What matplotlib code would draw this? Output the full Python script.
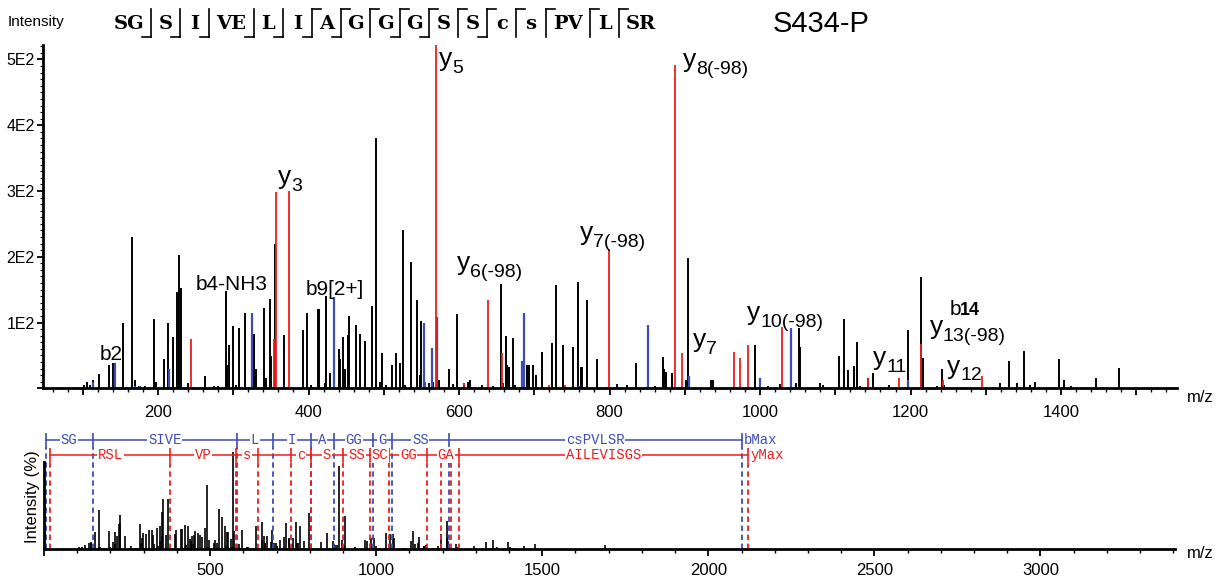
import matplotlib.pyplot as plt
import numpy as np
from matplotlib.ticker import MultipleLocator, FuncFormatter

plt.rcParams['font.family'] = ['Liberation Sans', 'DejaVu Sans']
plt.rcParams['mathtext.fontset'] = 'custom'
plt.rcParams['mathtext.rm'] = 'Liberation Sans'
plt.rcParams['mathtext.default'] = 'regular'

# ---- spectrum data (m/z, intensity) ----
black_mz = [102, 106, 110, 114, 122, 135, 140, 154, 166, 169, 175, 183, 195, 198, 208, 213,
            219.5, 225, 228, 230, 240, 262, 275, 280, 290, 292, 295, 299, 303, 308, 316, 328,
            330, 341, 344, 349, 350, 355, 367, 393, 397.6, 403, 413, 414, 422, 423, 428, 440,
            442, 445.5, 448, 453, 454, 463, 468.5, 475, 484, 489.7, 495, 497, 503, 510.5, 516,
            521.6, 526, 528, 536, 544, 548, 549.5, 560, 566, 573, 586.7, 592, 597, 606, 612,
            615, 630, 645, 655.4, 659, 662.5, 664, 666, 672, 674, 690, 693, 698, 702, 710, 723,
            728.5, 737.8, 738.5, 751, 757.7, 762, 764, 769.7, 783, 810, 823, 834.8, 860, 870.6,
            873, 875, 883, 902, 904.7, 935, 937, 993.4, 1011, 1027, 1048, 1051.8, 1053, 1080,
            1083, 1105, 1112, 1117, 1125, 1128.5, 1133, 1143, 1150, 1171, 1196, 1214, 1216,
            1235, 1241.5, 1245, 1319, 1331, 1342, 1351, 1359, 1365, 1397, 1404, 1413, 1446.5,
            1477.4, 1690]
black_int = [5, 9, 5, 13, 21, 35, 38, 100, 230, 13, 4, 3, 105, 9, 44, 100,
             78, 147, 203, 153, 8, 19, 4, 4, 148, 35, 66, 95, 5, 91, 115, 82,
             30, 122, 15, 136, 49, 220, 81, 88, 114, 5, 121, 121, 8, 140, 23, 60,
             45, 78, 30, 81, 110, 96, 82, 72, 125, 380, 10, 53, 5, 35, 54,
             38, 240, 5, 192, 134, 20, 102, 8, 10, 12, 30, 6, 113, 8, 10,
             12, 5, 4, 158, 8, 79, 35, 32, 77, 5, 35, 35, 35, 20, 55, 69,
             157, 62, 66, 63, 161, 33, 33, 134, 45, 7, 5, 39, 4, 48,
             30, 25, 23, 13, 198, 13, 13, 66, 3, 7, 8, 91, 63, 8,
             5, 49, 105, 28, 34, 71, 3, 15, 23, 5, 89, 169, 46,
             3, 30, 5, 8, 42, 8, 56, 5, 10, 44, 12, 3, 15,
             31, 22]

red_mz = [244, 357, 374.5, 569.4, 606, 639, 656.7, 720, 741, 799.3, 887, 896.8, 965.8, 973,
          984.5, 1029.6, 1143, 1184.7, 1214.5, 1243, 1294.6, 354]
red_int = [75, 298, 300, 575, 8, 134, 53, 5, 5, 212, 491, 53, 55, 46,
           66, 93, 15, 15, 68, 12, 19, 75]

blue_mz = [114, 143, 169, 176, 214, 325, 434, 553.5, 555, 563.7, 571, 684, 686.4, 760,
           851.6, 906, 1000, 1040.8, 1196.5]
blue_int = [10, 39, 4, 3, 30, 114, 139, 99, 10, 61, 109, 42, 115, 3,
            96, 19, 15, 92, 13]

# ---- peak labels ----
b_labels = ["b2", "b4-NH3", "b9[2+]"]
b_label_mz = [123, 250.5, 396.7]
b_label_int = [43, 149, 142]

y_heads = ["y", "y", "y", "y", "y", "y", "y", "y", "y", "y"]
y_tails = ["3", "5", "6(-98)", "7(-98)", "8(-98)", "7", "10(-98)", "13(-98)", "11", "12"]
y_label_mz = [376.7, 590.7, 614.6, 778, 915, 928, 1000, 1243, 1167.4, 1265.8]
y_label_int = [311, 490, 179.5, 225, 488.6, 63, 103.5, 83, 35, 22.5]

# ---- sequence header ----
seq_tokens = ["SG", "S", "I", "VE", "L", "I", "A", "G", "G", "G", "S", "S", "c", "s", "PV", "L", "SR"]
b_hook_seps = [0, 1, 2, 3, 4, 5, 6, 8, 9, 11]
y_hook_seps = [5, 6, 7, 8, 9, 10, 11, 12, 13, 14, 15]

# ---- fragment ladder (lower panel) ----
b_ladder_mz = [5, 147, 581, 689, 803, 874, 990, 1047, 1219, 2100]
b_ladder_txt = ["SG", "SIVE", "L", "I", "A", "GG", "G", "SS", "csPVLSR"]
y_ladder_mz = [19, 380, 578, 644, 745, 803, 901, 981, 1040, 1153, 1194, 1224, 1249, 2118]
y_ladder_txt = ["RSL", "VP", "s", "", "c", "S", "SS", "SC", "GG", "", "GA", "", "AILEVISGS"]

RED = '#ee1d1d'
BLUE = '#3c4db8'
W, H = 1220, 585

fig = plt.figure(figsize=(W / 100, H / 100), dpi=100)

# overlay axes in pixel coordinates for header texts
ov = fig.add_axes([0, 0, 1, 1])
ov.set_xlim(0, W)
ov.set_ylim(H, 0)
ov.axis('off')

# ---------------- top spectrum ----------------
ax = fig.add_axes([43 / W, 1 - 388.3 / H, 1134 / W, 343.3 / H])
ax.vlines(black_mz, 0, black_int, colors='k', lw=1.4)
ax.vlines(blue_mz, 0, blue_int, colors=BLUE, lw=1.6)
ax.vlines(red_mz, 0, red_int, colors=RED, lw=1.3)
ax.set_xlim(47.2, 1554)
ax.set_ylim(0, 522)
for s in ['top', 'right']:
    ax.spines[s].set_visible(False)
for s in ['left', 'bottom']:
    ax.spines[s].set_linewidth(2)

ax.xaxis.set_major_locator(MultipleLocator(100))
ax.xaxis.set_minor_locator(MultipleLocator(20))
ax.xaxis.set_major_formatter(FuncFormatter(lambda v, p: f"{int(v)}" if v % 200 == 0 else ""))
ax.yaxis.set_major_locator(MultipleLocator(100))
ax.yaxis.set_minor_locator(MultipleLocator(10))
ax.yaxis.set_major_formatter(FuncFormatter(lambda v, p: f"{int(v / 100)}E2" if v > 0 else ""))
ax.tick_params(axis='x', which='major', length=5, width=1.3, labelsize=12, pad=7)
ax.tick_params(axis='x', which='minor', length=3, width=1)
ax.tick_params(axis='y', which='major', length=4, width=1.3, labelsize=11.5, pad=2)
ax.tick_params(axis='y', which='minor', length=2, width=0.8)

for txt, mz, it in zip(b_labels, b_label_mz, b_label_int):
    ax.text(mz, it, txt, fontsize=15, ha='left', va='baseline')
ax.text(1252.5, 111, "b", fontsize=15, ha='left', va='baseline')
ax.text(1266, 111, "14", fontsize=13, ha='left', va='baseline', fontweight='bold')

for hd, tl, mz, it in zip(y_heads, y_tails, y_label_mz, y_label_int):
    ax.text(mz, it, hd, fontsize=19, ha='right', va='baseline')
    ax.annotate(tl, (mz, it), xytext=(0, -5), textcoords='offset points',
                fontsize=14, ha='left', va='baseline')

ov.text(1187, 397, "m/z", fontsize=12, va='center')
ov.text(8, 22, "Intensity", fontsize=11, va='center')
ov.text(773, 24, "S434-P", fontsize=21, va='center')

# sequence with fragment markers
x = 114
seps = []
for i, tok in enumerate(seq_tokens):
    w = 15 * len(tok)
    ov.text(x + w / 2, 24, tok, fontsize=14, family='DejaVu Serif', fontweight='bold',
            ha='center', va='center')
    x += w
    if i < len(seq_tokens) - 1:
        seps.append(x + 7)
        x += 14.2
for j, sx in enumerate(seps):
    ov.plot([sx, sx], [9, 37], color='k', lw=1.2)
    if j in b_hook_seps:
        ov.plot([sx - 9, sx], [37, 37], color='k', lw=1.2)
    if j in y_hook_seps:
        ov.plot([sx, sx + 9], [9, 9], color='k', lw=1.2)

# ---------------- lower spectrum ----------------
ax2 = fig.add_axes([44 / W, 1 - 549 / H, 1131 / W, 87 / H])
all_mz = np.concatenate([black_mz, red_mz, blue_mz])
all_int = np.concatenate([black_int, red_int, blue_int])
pct = all_int / all_int.max() * 100
ax2.vlines(all_mz, 0, pct, colors='k', lw=1.2, clip_on=False)
ax2.set_xlim(0, 3405)
ax2.set_ylim(0, 90)
for s in ['top', 'right']:
    ax2.spines[s].set_visible(False)
for s in ['left', 'bottom']:
    ax2.spines[s].set_linewidth(2)
ax2.set_yticks([])
ax2.xaxis.set_major_locator(MultipleLocator(500))
ax2.xaxis.set_minor_locator(MultipleLocator(100))
ax2.xaxis.set_major_formatter(FuncFormatter(lambda v, p: f"{int(v)}" if v > 0 else ""))
ax2.tick_params(axis='x', which='major', length=5, width=1.3, labelsize=12, pad=5)
ax2.tick_params(axis='x', which='minor', length=3, width=1)

b_row, y_row, half = 112.8, 97.2, 7.2
mono = 'Liberation Mono'
ax2.plot([b_ladder_mz[0], b_ladder_mz[-1]], [b_row, b_row], color=BLUE, lw=1.1, clip_on=False)
ax2.vlines(b_ladder_mz, b_row - half, b_row + half, colors=BLUE, lw=1.2, clip_on=False)
ax2.vlines(b_ladder_mz, 0, b_row - half, colors=BLUE, lw=1.3, linestyles=(0, (3, 2)), clip_on=False)
for a, b, t in zip(b_ladder_mz[:-1], b_ladder_mz[1:], b_ladder_txt):
    if t:
        ax2.text((a + b) / 2, b_row, t, color=BLUE, fontsize=10, family=mono, ha='center',
                 va='center', bbox=dict(fc='white', ec='none', pad=0.5))
ax2.text(b_ladder_mz[-1] + 8, b_row, "bMax", color=BLUE, fontsize=10, family=mono,
         ha='left', va='center')

ax2.plot([y_ladder_mz[0], y_ladder_mz[-1]], [y_row, y_row], color=RED, lw=1.1, clip_on=False)
ax2.vlines(y_ladder_mz, y_row - half, y_row + half, colors=RED, lw=1.2, clip_on=False)
ax2.vlines(y_ladder_mz, 0, y_row - half, colors=RED, lw=1.3, linestyles=(0, (3, 2)), clip_on=False)
for a, b, t in zip(y_ladder_mz[:-1], y_ladder_mz[1:], y_ladder_txt):
    if t:
        ax2.text((a + b) / 2, y_row, t, color=RED, fontsize=10, family=mono, ha='center',
                 va='center', bbox=dict(fc='white', ec='none', pad=0.5))
ax2.text(y_ladder_mz[-1] + 8, y_row, "yMax", color=RED, fontsize=10, family=mono,
         ha='left', va='center')

ov.text(1187, 553, "m/z", fontsize=12, va='center')
ov.text(33, 497, "Intensity (%)", fontsize=12, rotation=90, ha='center', va='center')

fig.savefig('out.png', dpi=100)
